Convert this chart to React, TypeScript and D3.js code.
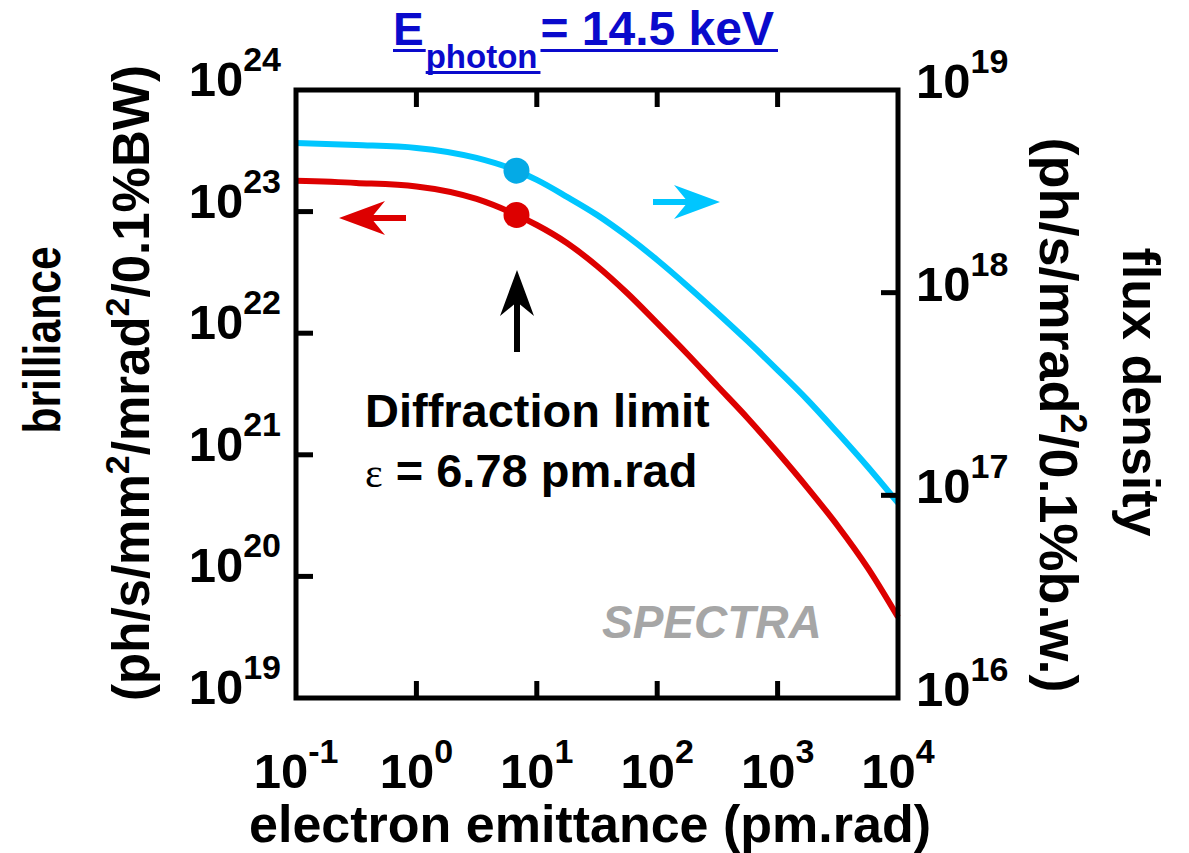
import React, { useRef, useEffect } from "react";
import * as d3 from "d3";

// electron emittance (pm.rad) and the two computed curves
const emittance = [0.1, 0.316, 1, 3.16, 6.78, 10, 17.8, 31.6, 56.2, 100, 178, 316, 562, 1000, 1778, 3162, 5623, 10000];
const brilliance = [1.79e23, 1.72e23, 1.61e23, 1.27e23, 9.38e22, 7.76e22, 5.52e22, 3.57e22, 2.14e22, 1.21e22, 6.75e21, 3.68e21, 2.01e21, 1.05e21, 5.33e20, 2.6e20, 1.17e20, 4.63e19];
const fluxDensity = [5.47e18, 5.35e18, 5.18e18, 4.62e18, 4.0e18, 3.6e18, 2.97e18, 2.42e18, 1.9e18, 1.45e18, 1.08e18, 7.94e17, 5.78e17, 4.15e17, 2.95e17, 2.03e17, 1.38e17, 9.17e16];
const diffractionLimit = 6.78;

const xTickExps = [-1, 0, 1, 2, 3, 4];
const leftTickExps = [19, 20, 21, 22, 23, 24];
const rightTickExps = [16, 17, 18, 19];

const FONT = "'Liberation Sans', Arial, Helvetica, sans-serif";
const RED = "#dd0000";
const CYAN = "#00c6ff";
const CYAN_DOT = "#04aae6";
const BLUE = "#0a0acc";

const W = 1189;
const H = 853;

const App = () => {
  const svgRef = useRef(null);

  useEffect(() => {
    const svg = d3.select(svgRef.current);
    svg.selectAll("*").remove();

    const left = 296, right = 898, top = 90, bottom = 698;
    const tickLen = 17;

    const x = d3.scaleLog().domain([1e-1, 1e4]).range([left, right]);
    const yL = d3.scaleLog().domain([1e19, 1e24]).range([bottom, top]);
    const yR = d3.scaleLog().domain([1e16, 1e19]).range([bottom, top]);

    const g = svg.append("g").attr("font-family", FONT).attr("font-weight", "bold");

    // curves
    const lineL = d3.line().x((d) => x(d[0])).y((d) => yL(d[1])).curve(d3.curveMonotoneX);
    const lineR = d3.line().x((d) => x(d[0])).y((d) => yR(d[1])).curve(d3.curveMonotoneX);

    g.append("path")
      .datum(emittance.map((e, i) => [e, fluxDensity[i]]))
      .attr("d", lineR)
      .attr("fill", "none")
      .attr("stroke", CYAN)
      .attr("stroke-width", 6);

    g.append("path")
      .datum(emittance.map((e, i) => [e, brilliance[i]]))
      .attr("d", lineL)
      .attr("fill", "none")
      .attr("stroke", RED)
      .attr("stroke-width", 6);

    // diffraction-limit markers
    const iDL = emittance.indexOf(diffractionLimit);
    g.append("circle")
      .attr("cx", x(diffractionLimit))
      .attr("cy", yR(fluxDensity[iDL]))
      .attr("r", 13)
      .attr("fill", CYAN_DOT);
    g.append("circle")
      .attr("cx", x(diffractionLimit))
      .attr("cy", yL(brilliance[iDL]))
      .attr("r", 13)
      .attr("fill", RED);

    // frame
    g.append("rect")
      .attr("x", left)
      .attr("y", top)
      .attr("width", right - left)
      .attr("height", bottom - top)
      .attr("fill", "none")
      .attr("stroke", "#000")
      .attr("stroke-width", 5);

    // ticks
    const ticks = g.append("g").attr("stroke", "#000").attr("stroke-width", 5);
    xTickExps.slice(1, -1).forEach((k) => {
      const px = x(Math.pow(10, k));
      ticks.append("line").attr("x1", px).attr("x2", px).attr("y1", bottom).attr("y2", bottom - tickLen);
      ticks.append("line").attr("x1", px).attr("x2", px).attr("y1", top).attr("y2", top + tickLen);
    });
    leftTickExps.slice(1, -1).forEach((k) => {
      const py = yL(Math.pow(10, k));
      ticks.append("line").attr("x1", left).attr("x2", left + tickLen).attr("y1", py).attr("y2", py);
    });
    rightTickExps.slice(1, -1).forEach((k) => {
      const py = yR(Math.pow(10, k));
      ticks.append("line").attr("x1", right).attr("x2", right - tickLen).attr("y1", py).attr("y2", py);
    });

    // power-of-ten labels
    const pow10 = (px, py, k, anchor) => {
      const t = g.append("text").attr("x", px).attr("y", py).attr("text-anchor", anchor).attr("fill", "#000");
      t.append("tspan").attr("font-size", 49).text("10");
      t.append("tspan").attr("font-size", 34).attr("dy", -25).text(String(k));
    };
    xTickExps.forEach((k) => pow10(x(Math.pow(10, k)), 788, k, "middle"));
    leftTickExps.forEach((k) => pow10(281, yL(Math.pow(10, k)) + 6, k, "end"));
    rightTickExps.forEach((k) => pow10(916, yR(Math.pow(10, k)) + 8, k, "start"));

    // axis titles
    g.append("text")
      .attr("x", 590)
      .attr("y", 842)
      .attr("text-anchor", "middle")
      .attr("font-size", 52)
      .text("electron emittance (pm.rad)");

    // condensed a bit, as in the original
    g.append("text")
      .attr("transform", `translate(60,340) rotate(-90) scale(0.82,1)`)
      .attr("text-anchor", "middle")
      .attr("font-size", 52)
      .text("brilliance");

    const lt = g.append("text")
      .attr("transform", `translate(149,383) rotate(-90)`)
      .attr("text-anchor", "middle")
      .attr("font-size", 51);
    lt.append("tspan").text("(ph/s/mm");
    lt.append("tspan").attr("font-size", 34).attr("dy", -20).text("2");
    lt.append("tspan").attr("dy", 20).text("/mrad");
    lt.append("tspan").attr("font-size", 34).attr("dy", -20).text("2");
    lt.append("tspan").attr("dy", 20).text("/0.1%BW)");

    g.append("text")
      .attr("transform", `translate(1123,392) rotate(90)`)
      .attr("text-anchor", "middle")
      .attr("font-size", 52)
      .text("flux density");

    const rt = g.append("text")
      .attr("transform", `translate(1040,415) rotate(90)`)
      .attr("text-anchor", "middle")
      .attr("font-size", 54);
    rt.append("tspan").text("(ph/s/mrad");
    rt.append("tspan").attr("font-size", 36).attr("dy", -21).text("2");
    rt.append("tspan").attr("dy", 21).text("/0.1%b.w.)");

    // title, underlined in pieces
    const title = g.append("g").attr("fill", BLUE);
    const tE = title.append("text").attr("x", 393).attr("y", 45).attr("font-size", 46).text("E");
    const eW = tE.node().getComputedTextLength();
    const tSub = title.append("text").attr("x", 393 + eW + 2).attr("y", 68).attr("font-size", 33).text("photon");
    const subW = tSub.node().getComputedTextLength();
    const restX = 393 + eW + 2 + subW + 3;
    const tRest = title.append("text").attr("x", restX).attr("y", 45).attr("font-size", 48).text("= 14.5 keV");
    const restW = tRest.node().getComputedTextLength();
    title.append("rect").attr("x", 393).attr("y", 49).attr("width", eW + 2).attr("height", 3);
    title.append("rect").attr("x", 393 + eW + 2).attr("y", 71).attr("width", subW + 3).attr("height", 3);
    title.append("rect").attr("x", restX).attr("y", 49).attr("width", restW + 4).attr("height", 3);

    // annotation
    g.append("text").attr("x", 365).attr("y", 427).attr("font-size", 47).text("Diffraction limit");
    const ann = g.append("text").attr("x", 365).attr("y", 487).attr("font-size", 47);
    ann.append("tspan").attr("font-family", "'Liberation Serif', 'Times New Roman', serif").attr("font-weight", "normal").attr("font-size", 42).text("ε");
    ann.append("tspan").text(" = 6.78 pm.rad");

    g.append("text")
      .attr("x", 602)
      .attr("y", 638)
      .attr("font-size", 46)
      .attr("font-style", "italic")
      .attr("fill", "#a6a6a6")
      .text("SPECTRA");

    // arrows
    const arrow = (pts, color) => {
      const [x0, y0, x1, y1] = pts;
      const ang = Math.atan2(y1 - y0, x1 - x0);
      const ux = Math.cos(ang), uy = Math.sin(ang);
      const nx = -uy, ny = ux;
      const headL = 46, headW = 17, notch = 32;
      g.append("line")
        .attr("x1", x0).attr("y1", y0)
        .attr("x2", x1 - ux * notch).attr("y2", y1 - uy * notch)
        .attr("stroke", color).attr("stroke-width", 6);
      const p = [
        [x1, y1],
        [x1 - ux * headL + nx * headW, y1 - uy * headL + ny * headW],
        [x1 - ux * notch, y1 - uy * notch],
        [x1 - ux * headL - nx * headW, y1 - uy * headL - ny * headW],
      ];
      g.append("polygon").attr("points", p.map((q) => q.join(",")).join(" ")).attr("fill", color);
    };
    arrow([406, 218, 339, 218], RED);
    arrow([653, 202, 720, 202], CYAN);
    arrow([517, 352, 517, 270], "#000");
  }, []);

  return (
    <svg
      ref={svgRef}
      width={W}
      height={H}
      style={{ position: "absolute", left: 0, top: 0, background: "#fff" }}
    />
  );
};

export default App;
